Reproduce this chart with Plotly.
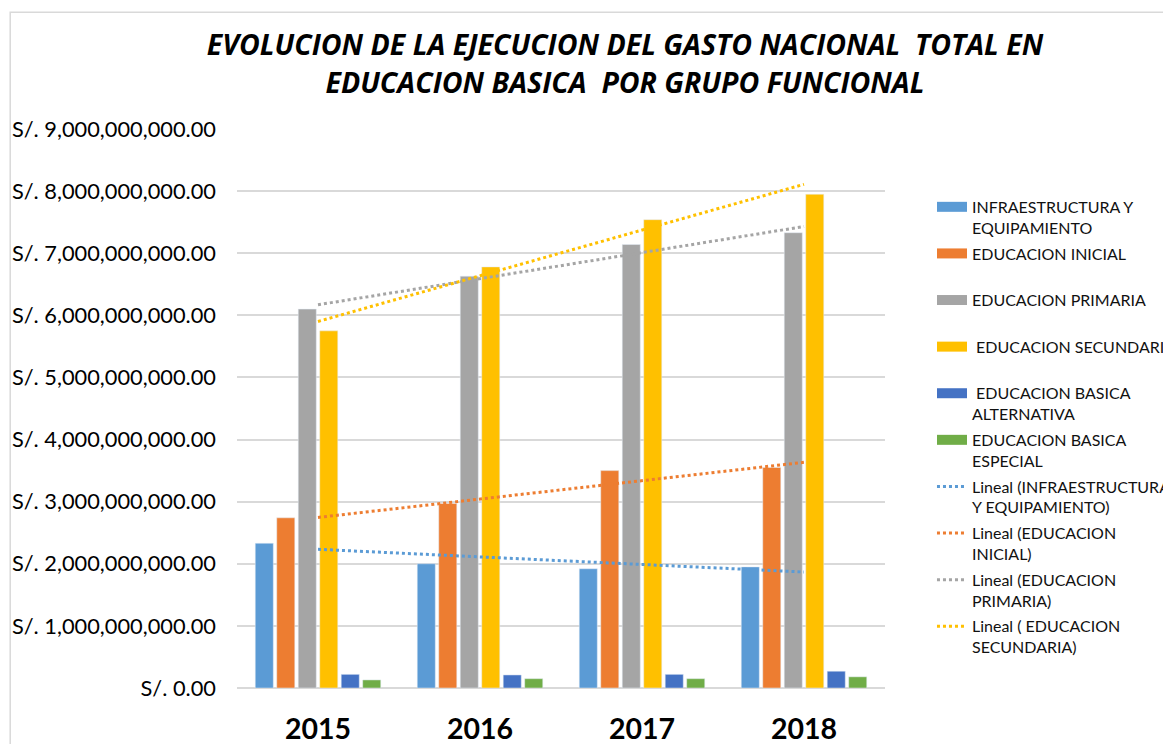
import numpy as np
import plotly.graph_objects as go

years = [2015, 2016, 2017, 2018]

series_names = [
    "INFRAESTRUCTURA Y<br>EQUIPAMIENTO",
    "EDUCACION INICIAL<br> ",
    "EDUCACION PRIMARIA<br> ",
    " EDUCACION SECUNDARIA<br> ",
    " EDUCACION BASICA<br>ALTERNATIVA",
    "EDUCACION BASICA<br>ESPECIAL",
]
infraestructura = [2.33e9, 2.00e9, 1.92e9, 1.95e9]
inicial = [2.74e9, 2.97e9, 3.50e9, 3.55e9]
primaria = [6.10e9, 6.63e9, 7.14e9, 7.33e9]
secundaria = [5.75e9, 6.78e9, 7.54e9, 7.95e9]
alternativa = [0.22e9, 0.21e9, 0.22e9, 0.27e9]
especial = [0.13e9, 0.15e9, 0.15e9, 0.18e9]
series_values = [infraestructura, inicial, primaria, secundaria, alternativa, especial]
colors = ["#5b9bd5", "#ed7d31", "#a5a5a5", "#ffc000", "#4472c4", "#70ad47"]

trend_names = [
    "Lineal (INFRAESTRUCTURA<br>Y EQUIPAMIENTO)",
    "Lineal (EDUCACION<br>INICIAL)",
    "Lineal (EDUCACION<br>PRIMARIA)",
    "Lineal ( EDUCACION<br>SECUNDARIA)",
]

fig = go.Figure()

# bars (legend drawn by wide line stand-ins)
for name, vals, col in zip(series_names, series_values, colors):
    label = name.replace("<br> ", "").replace("<br>", " ")
    fig.add_trace(go.Bar(x=years, y=vals, marker_color=col, showlegend=False,
                         legendgroup=name, name=label))
    fig.add_trace(go.Scatter(x=[None], y=[None], mode="lines", name=name,
                             legendgroup=name, line=dict(color=col, width=10)))

# linear trend lines, like Excel's
idx = np.arange(1, len(years) + 1)
for name, vals, col in zip(trend_names, series_values[:4], colors[:4]):
    slope, icpt = np.polyfit(idx, vals, 1)
    fig.add_trace(go.Scatter(x=years, y=slope * idx + icpt, mode="lines", name=name,
                             legendgroup=name,
                             line=dict(color=col, width=3, dash="dot")))

# page body has an 8px margin, so the figure starts 8px in
fig.update_layout(
    width=1163, height=736,
    margin=dict(l=229, r=286, t=121, b=56, autoexpand=False),
    paper_bgcolor="white", plot_bgcolor="white",
    barmode="group", bargap=0.204, bargroupgap=0.16,
    font=dict(family="Lato, Open Sans, sans-serif", color="#000"),
    title=dict(
        text="<b><i>EVOLUCION DE LA EJECUCION DEL GASTO NACIONAL  TOTAL EN<br>"
             "EDUCACION BASICA  POR GRUPO FUNCIONAL</i></b>",
        x=0.5305, xanchor="center", y=0.9355, yanchor="middle",
        font=dict(size=28.5, family="Open Sans, sans-serif", color="#000"),
    ),
    legend=dict(x=1.0725, y=0.891, xanchor="left", yanchor="top",
                font=dict(size=16, color="#111"), valign="top",
                tracegroupgap=2, itemwidth=30),
    showlegend=True,
)
fig.update_xaxes(
    range=[2014.5, 2018.5], tickvals=years, ticktext=[f"<b>{y}</b>" for y in years],
    tickfont=dict(size=28.5), showgrid=False, zeroline=False, showline=False,
    ticks="", ticklabelstandoff=21, fixedrange=True, automargin=False,
)
fig.update_yaxes(
    range=[0, 9e9], dtick=1e9, tickprefix="S/. ", tickformat=",.2f",
    tickfont=dict(size=21.8), gridcolor="#d9d9d9", gridwidth=1.5,
    zeroline=True, zerolinecolor="#d9d9d9", zerolinewidth=1.5,
    ticklabelstandoff=20, automargin=False,
)
# chart area border
fig.add_shape(type="rect", xref="paper", yref="paper", x0=-0.350, y0=-1, x1=2, y1=1.209,
              line=dict(color="#d9d9d9", width=1.5), fillcolor="rgba(0,0,0,0)", layer="below")

fig.write_html("out.html")
